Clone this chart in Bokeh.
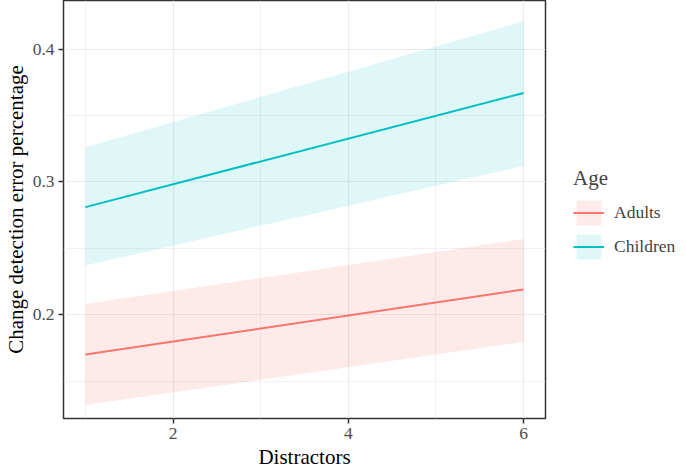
from bokeh.plotting import figure
from bokeh.layouts import row
from bokeh.models import Range1d, FixedTicker, Legend, LegendItem, ColumnDataSource
from bokeh.embed import file_html
from bokeh.resources import INLINE

# Data
distractors = [1, 6]
adults_fit = [0.170, 0.219]
adults_lower = [0.132, 0.1795]
adults_upper = [0.208, 0.257]
children_fit = [0.281, 0.367]
children_lower = [0.237, 0.312]
children_upper = [0.326, 0.421]
x_ticks = [2, 4, 6]
x_minor = [1, 3, 5]
y_ticks = [0.2, 0.3, 0.4]
y_minor = [0.15, 0.25, 0.35]
groups = ["Adults", "Children"]

FONT = "Liberation Serif"
ADULT = "#F8766D"
CHILD = "#00BFC4"

FW, FH = 482, 418
p = figure(frame_width=FW, frame_height=FH, output_backend="svg", toolbar_location=None,
           x_range=Range1d(0.75, 6.25), y_range=Range1d(0.1218, 0.4366),
           min_border_left=50, min_border_right=2, min_border_top=0, min_border_bottom=40)

p.background_fill_color = "white"
p.outline_line_color = "#333333"
p.outline_line_width = 1.5

src_a = ColumnDataSource(dict(x=distractors, fit=adults_fit, lo=adults_lower, hi=adults_upper))
src_c = ColumnDataSource(dict(x=distractors, fit=children_fit, lo=children_lower, hi=children_upper))

band_a = p.varea(x="x", y1="lo", y2="hi", source=src_a, fill_color=ADULT, fill_alpha=0.15)
band_c = p.varea(x="x", y1="lo", y2="hi", source=src_c, fill_color=CHILD, fill_alpha=0.12)
line_a = p.line(x="x", y="fit", source=src_a, line_color=ADULT, line_width=2)
line_c = p.line(x="x", y="fit", source=src_c, line_color=CHILD, line_width=2)

p.xaxis.ticker = FixedTicker(ticks=x_ticks, minor_ticks=x_minor)
p.yaxis.ticker = FixedTicker(ticks=y_ticks, minor_ticks=y_minor)
p.yaxis.major_label_overrides = {0.2: "0.2", 0.3: "0.3", 0.4: "0.4"}

for g in (p.xgrid, p.ygrid):
    g.grid_line_color = "#EBEBEB"
    g.grid_line_width = 1.2
    g.minor_grid_line_color = "#EBEBEB"
    g.minor_grid_line_width = 0.7

for ax in (p.xaxis, p.yaxis):
    ax.axis_line_color = None
    ax.major_tick_line_color = "#333333"
    ax.major_tick_line_width = 1.5
    ax.major_tick_out = 5
    ax.major_tick_in = 0
    ax.minor_tick_line_color = None
    ax.major_label_text_font = FONT
    ax.major_label_text_font_size = "17.5px"
    ax.major_label_text_color = "#4D4D4D"
    ax.axis_label_text_font = FONT
    ax.axis_label_text_font_size = "21px"
    ax.axis_label_text_font_style = "normal"
    ax.axis_label_text_color = "black"

p.xaxis.axis_label = "Distractors"
p.yaxis.axis_label = "Change detection error percentage"
p.xaxis.major_label_standoff = 4
p.xaxis.axis_label_standoff = 3
p.yaxis.major_label_standoff = 4
p.yaxis.axis_label_standoff = 2

# Legend panel (separate figure to the right of the plot)
LH = 458
pl = figure(width=133, height=LH, output_backend="svg", toolbar_location=None,
            x_range=Range1d(0, 1), y_range=Range1d(0, 1),
            min_border=0)
pl.axis.visible = False
pl.grid.visible = False
pl.outline_line_color = None
pl.background_fill_color = None
pl.border_fill_color = None

dummy = ColumnDataSource(dict(x=[5, 6], y1=[5, 5], y2=[6, 6]))
leg_band_a = pl.varea(x="x", y1="y1", y2="y2", source=dummy, fill_color=ADULT, fill_alpha=0.15)
leg_line_a = pl.line(x="x", y="y1", source=dummy, line_color=ADULT, line_width=2)
leg_band_c = pl.varea(x="x", y1="y1", y2="y2", source=dummy, fill_color=CHILD, fill_alpha=0.12)
leg_line_c = pl.line(x="x", y="y1", source=dummy, line_color=CHILD, line_width=2)

legend = Legend(items=[
    LegendItem(label=groups[0], renderers=[leg_band_a, leg_line_a]),
    LegendItem(label=groups[1], renderers=[leg_band_c, leg_line_c]),
], location=(26, LH - 315))
legend.title = "Age"
legend.title_text_font = FONT
legend.title_text_font_size = "21px"
legend.title_text_font_style = "normal"
legend.title_standoff = 6
legend.label_text_font = FONT
legend.label_text_font_size = "17.5px"
legend.glyph_width = 31
legend.glyph_height = 31
legend.label_standoff = 10
legend.spacing = 3
legend.margin = 0
legend.padding = 4
legend.border_line_color = None
legend.background_fill_alpha = 0
pl.add_layout(legend, "center")

layout = row(p, pl)
open("out.html", "w").write(file_html(layout, INLINE))
